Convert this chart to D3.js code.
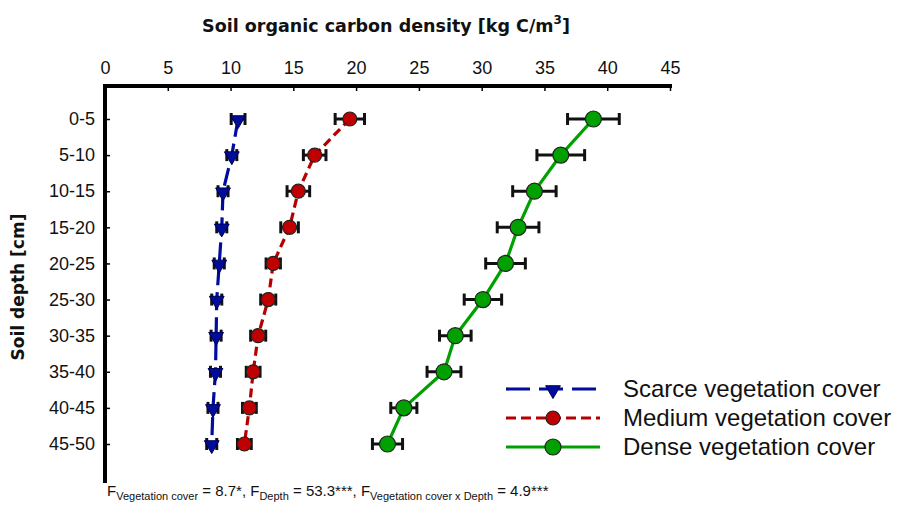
<!DOCTYPE html>
<html><head><meta charset="utf-8">
<script src="https://cdn.jsdelivr.net/npm/d3@7"></script>
<style>body{margin:0;background:#fff;}svg{display:block;}</style>
</head><body>
<svg id="c" width="905" height="506"></svg>
<script>
const depths = ["0-5","5-10","10-15","15-20","20-25","25-30","30-35","35-40","40-45","45-50"];
const xTicks = [0,5,10,15,20,25,30,35,40,45];
const scarce = [10.6,10.1,9.4,9.3,9.1,8.9,8.85,8.8,8.6,8.5];
const scarceErr = [0.55,0.4,0.4,0.4,0.4,0.4,0.4,0.4,0.4,0.4];
const medium = [19.5,16.7,15.4,14.7,13.4,13.0,12.2,11.8,11.5,11.1];
const mediumErr = [1.17,0.9,0.9,0.7,0.57,0.6,0.6,0.55,0.55,0.55];
const dense = [38.9,36.3,34.2,32.9,31.9,30.1,27.9,27.0,23.8,22.5];
const denseErr = [2.06,1.9,1.73,1.66,1.58,1.49,1.26,1.35,1.04,1.2];
const seriesNames = ["Scarce vegetation cover","Medium vegetation cover","Dense vegetation cover"];

const svg = d3.select("#c");
const x = d3.scaleLinear().domain([0,45]).range([105,670]);
const y = d3.scalePoint().domain(depths).range([119,444]);
const axTop = 86, axBottom = 483;

const series = [
  {name:seriesNames[0], vals:scarce, err:scarceErr, color:"#000c9c", dash:"18,7", marker:"tri", fill:"#000c9c"},
  {name:seriesNames[1], vals:medium, err:mediumErr, color:"#b40000", dash:"9,5", marker:"circ", fill:"#c00000", r:7},
  {name:seriesNames[2], vals:dense, err:denseErr, color:"#00a000", dash:null, marker:"circ", fill:"#00a000", r:8}
];

// title
svg.append("text").attr("x",386).attr("y",32).attr("text-anchor","middle")
  .attr("font-family","DejaVu Sans").attr("font-weight","bold").attr("font-size",17.5).attr("fill","#111")
  .html('Soil organic carbon density [kg C/m<tspan dy="-8" font-size="12">3</tspan><tspan dy="8">]</tspan>');

// x axis (top)
const xAxis = d3.axisTop(x).tickValues(xTicks).tickSize(-5).tickPadding(12).tickFormat(d3.format("d"));
const gx = svg.append("g").attr("transform",`translate(0,${axTop})`).call(xAxis);
gx.select(".domain").remove();
gx.selectAll("line").attr("stroke","#000").attr("stroke-width",1.5);
gx.selectAll("text").attr("font-family","Liberation Sans, Arial").attr("font-size",18).attr("fill","#111");
svg.append("line").attr("x1",103).attr("x2",672).attr("y1",axTop).attr("y2",axTop).attr("stroke","#000").attr("stroke-width",4);

// y axis (left)
const yAxis = d3.axisLeft(y).tickSize(-5).tickPadding(10);
const gy = svg.append("g").attr("transform",`translate(105,0)`).call(yAxis);
gy.select(".domain").remove();
gy.selectAll("line").attr("stroke","#000").attr("stroke-width",1.5);
gy.selectAll("text").attr("font-family","Liberation Sans, Arial").attr("font-size",18).attr("fill","#111");
svg.append("line").attr("x1",105).attr("x2",105).attr("y1",axTop-2).attr("y2",axBottom).attr("stroke","#000").attr("stroke-width",4);

svg.append("text").attr("transform","translate(24,287) rotate(-90)").attr("text-anchor","middle")
  .attr("font-family","DejaVu Sans").attr("font-weight","bold").attr("font-size",17).attr("fill","#111")
  .text("Soil depth [cm]");

const tri = d3.symbol().type(d3.symbolTriangle).size(95);
function drawMarker(g, s, cx, cy){
  if(s.marker==="tri"){
    g.append("path").attr("d",tri()).attr("transform",`translate(${cx},${cy+1}) rotate(180)`)
      .attr("fill",s.fill).attr("stroke","#000055").attr("stroke-width",1);
  } else {
    g.append("circle").attr("cx",cx).attr("cy",cy).attr("r",s.r).attr("fill",s.fill).attr("stroke","#222").attr("stroke-width",1.2);
  }
}

series.forEach(s=>{
  const g = svg.append("g");
  const line = d3.line().x((d)=>x(d)).y((d,i)=>y(depths[i]));
  g.append("path").attr("d",line(s.vals)).attr("fill","none").attr("stroke",s.color).attr("stroke-width",3.2)
    .attr("stroke-dasharray",s.dash);
  s.vals.forEach((v,i)=>{
    const cy = y(depths[i]);
    const x1 = x(v - s.err[i]), x2 = x(v + s.err[i]);
    g.append("line").attr("x1",x1).attr("x2",x2).attr("y1",cy).attr("y2",cy).attr("stroke","#111").attr("stroke-width",3);
    [x1,x2].forEach(xx=>g.append("line").attr("x1",xx).attr("x2",xx).attr("y1",cy-6).attr("y2",cy+6).attr("stroke","#111").attr("stroke-width",3));
  });
  s.vals.forEach((v,i)=>drawMarker(g,s,x(v),y(depths[i])));
});

// legend
const legY = [389,418,447];
const legDash = ["24,9","10,5",null];
series.forEach((s,i)=>{
  const g = svg.append("g");
  g.append("line").attr("x1",506).attr("x2",600).attr("y1",legY[i]).attr("y2",legY[i])
    .attr("stroke",s.color).attr("stroke-width",3.2).attr("stroke-dasharray",legDash[i]);
  drawMarker(g,s,553,legY[i]);
  g.append("text").attr("x",623).attr("y",legY[i]+8).attr("font-family","Liberation Sans, Arial")
    .attr("font-size",24).attr("fill","#111").text(s.name);
});

// footnote
svg.append("text").attr("x",107).attr("y",496).attr("font-family","Liberation Sans, Arial").attr("font-size",15).attr("fill","#111")
  .html('F<tspan dy="4" font-size="11">Vegetation cover</tspan><tspan dy="-4"> = 8.7*, F</tspan><tspan dy="4" font-size="11">Depth</tspan><tspan dy="-4"> = 53.3***, F</tspan><tspan dy="4" font-size="11">Vegetation cover x Depth</tspan><tspan dy="-4"> = 4.9***</tspan>');
</script>
</body></html>
